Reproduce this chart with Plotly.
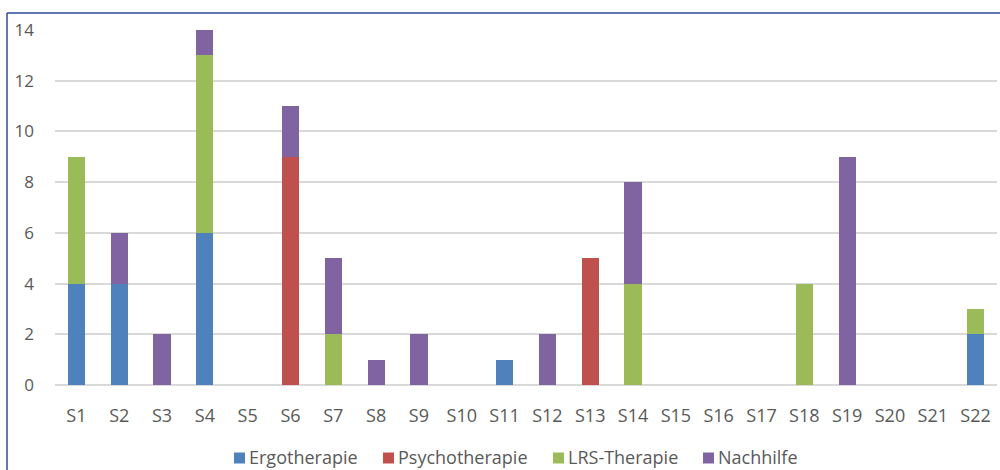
import plotly.graph_objects as go

categories = [f"S{i}" for i in range(1, 23)]
ergotherapie   = [4, 4, 0, 6, 0, 0, 0, 0, 0, 0, 1, 0, 0, 0, 0, 0, 0, 0, 0, 0, 0, 2]
psychotherapie = [0, 0, 0, 0, 0, 9, 0, 0, 0, 0, 0, 0, 5, 0, 0, 0, 0, 0, 0, 0, 0, 0]
lrs_therapie   = [5, 0, 0, 7, 0, 0, 2, 0, 0, 0, 0, 0, 0, 4, 0, 0, 0, 4, 0, 0, 0, 1]
nachhilfe      = [0, 2, 2, 1, 0, 2, 3, 1, 2, 0, 0, 2, 0, 4, 0, 0, 0, 0, 9, 0, 0, 0]
y_ticks = [0, 2, 4, 6, 8, 10, 12, 14]

series = [
    ("Ergotherapie", ergotherapie, "#4F81BD"),
    ("Psychotherapie", psychotherapie, "#C0504D"),
    ("LRS-Therapie", lrs_therapie, "#9BBB59"),
    ("Nachhilfe", nachhilfe, "#8064A2"),
]

FONT = "Open Sans, Noto Sans, sans-serif"
TXT = "#595959"

fig = go.Figure()
for name, vals, col in series:
    fig.add_trace(go.Bar(x=categories, y=vals, name=name, showlegend=False,
                         marker=dict(color=col, line=dict(width=0))))

L, R, T, B = 55, 3, 30, 85
W, H = 1000, 470
pw, ph = W - L - R, H - T - B

def px_x(x):
    return (x - L) / pw

def px_y(y):
    return (H - B - y) / ph

shapes = [
    dict(type="line", xref="paper", yref="paper", x0=px_x(7), x1=px_x(1005), y0=px_y(13), y1=px_y(13),
         line=dict(color="#2E4A9E", width=1.5)),
    dict(type="line", xref="paper", yref="paper", x0=px_x(7), x1=px_x(7), y0=px_y(13), y1=px_y(480),
         line=dict(color="#2E4A9E", width=1.5)),
]
annotations = []
legend_x = [234, 383, 553, 703]
ly = 458
for (name, _, col), lx in zip(series, legend_x):
    shapes.append(dict(type="rect", xref="paper", yref="paper", x0=px_x(lx), x1=px_x(lx + 11),
                       y0=px_y(ly + 5.5), y1=px_y(ly - 5.5), fillcolor=col, line=dict(width=0)))
    annotations.append(dict(text=name, xref="paper", yref="paper", x=px_x(lx + 13), y=px_y(ly - 1),
                            xanchor="left", yanchor="middle", showarrow=False,
                            font=dict(family=FONT, size=18, color=TXT)))

fig.update_layout(
    barmode="stack",
    bargap=0.6,
    width=W, height=H,
    margin=dict(l=L, r=R, t=T, b=B),
    paper_bgcolor="white",
    plot_bgcolor="white",
    font=dict(family=FONT, size=18, color=TXT),
    showlegend=False,
    xaxis=dict(showgrid=False, showline=False, ticks="", tickfont=dict(size=18, color=TXT),
               ticklabelstandoff=18, automargin=False),
    yaxis=dict(range=[0, 14], tickvals=y_ticks, showgrid=True, gridcolor="#D9D9D9", gridwidth=1.5,
               zeroline=True, zerolinecolor="#D9D9D9", zerolinewidth=1.5, showline=False,
               ticks="", tickfont=dict(size=17, color=TXT), ticklabelstandoff=20, automargin=False),
    shapes=shapes,
    annotations=annotations,
)

fig.write_html("out.html")
